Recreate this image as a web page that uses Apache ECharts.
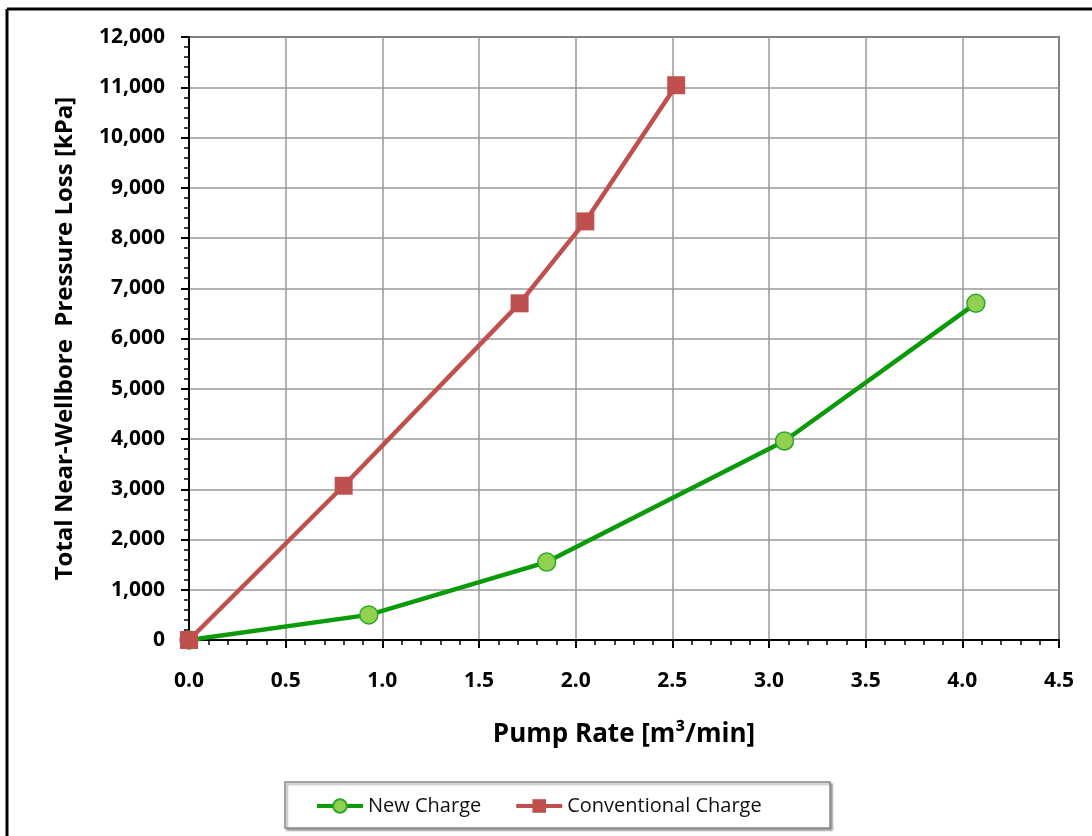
<!DOCTYPE html>
<html>
<head>
<meta charset="utf-8">
<script src="https://cdn.jsdelivr.net/npm/echarts@6/dist/echarts.min.js"></script>
<style>
  html, body { margin: 0; padding: 0; background: #fff; }
  #main { width: 1092px; height: 836px; }
</style>
</head>
<body>
<div id="main"></div>
<script>
// pump rate [m3/min] vs pressure loss [kPa]
var newRate = [0, 0.93, 1.85, 3.08, 4.07];
var newLoss = [0, 500, 1550, 3960, 6700];
var convRate = [0, 0.80, 1.71, 2.05, 2.52];
var convLoss = [0, 3070, 6700, 8330, 11040];
var seriesNames = ['New Charge', 'Conventional Charge'];

function pairs(xs, ys) {
  return xs.map(function (x, i) { return [x, ys[i]]; });
}

var myChart = echarts.init(document.getElementById('main'));
var font = '"Open Sans", Lato, sans-serif';

var option = {
  backgroundColor: '#fff',
  animation: false,
  textStyle: { fontFamily: font },
  grid: { left: 189, top: 37, right: 33, bottom: 196, show: true, borderColor: '#000', borderWidth: 1.5 },
  graphic: [
    // outer frame (top + left only visible)
    { type: 'line', shape: { x1: 7, y1: 9, x2: 1092, y2: 9 }, style: { stroke: '#000', lineWidth: 3 } },
    { type: 'line', shape: { x1: 7, y1: 9, x2: 7, y2: 836 }, style: { stroke: '#000', lineWidth: 3 } },
    // legend box
    { type: 'rect', shape: { x: 285, y: 782, width: 545, height: 46 },
      style: { fill: '#fff', stroke: '#888', lineWidth: 1.5, shadowColor: 'rgba(0,0,0,0.35)', shadowOffsetX: 2, shadowOffsetY: 2, shadowBlur: 2 }, z: 0 }
  ],
  legend: {
    data: seriesNames,
    left: 310,
    top: 791,
    itemWidth: 46,
    itemHeight: 17,
    itemGap: 33,
    z: 10,
    lineStyle: { width: 4 },
    textStyle: { fontSize: 20, color: '#111', fontFamily: font }
  },
  xAxis: {
    type: 'value',
    min: 0, max: 4.5, interval: 0.5,
    name: 'Pump Rate [m\u00B3/min]',
    nameLocation: 'middle',
    nameGap: 82,
    nameTextStyle: { fontSize: 26, fontWeight: 'bold', color: '#000' },
    axisLine: { show: true, lineStyle: { color: '#000', width: 2 } },
    axisTick: { show: true, inside: false, length: 8, lineStyle: { color: '#000', width: 2 } },
    minorTick: { show: true, splitNumber: 5, length: 5, lineStyle: { color: '#000', width: 1.5 } },
    axisLabel: { fontSize: 21, fontWeight: 'bold', color: '#000', margin: 31,
      formatter: function (v) { return v.toFixed(1); } },
    splitLine: { show: true, lineStyle: { color: '#999', width: 1.5 } }
  },
  yAxis: {
    type: 'value',
    min: 0, max: 12000, interval: 1000,
    name: 'Total Near-Wellbore  Pressure Loss [kPa]',
    nameLocation: 'middle',
    nameGap: 112,
    nameTextStyle: { fontSize: 24, fontWeight: 'bold', color: '#000' },
    axisLine: { show: true, lineStyle: { color: '#000', width: 2 } },
    axisTick: { show: true, inside: false, length: 8, lineStyle: { color: '#000', width: 2 } },
    minorTick: { show: true, splitNumber: 5, length: 5, lineStyle: { color: '#000', width: 1.5 } },
    axisLabel: { fontSize: 21, fontWeight: 'bold', color: '#000', margin: 24,
      formatter: function (v) { return v.toLocaleString('en-US'); } },
    splitLine: { show: true, lineStyle: { color: '#999', width: 1.5 } }
  },
  series: [
    {
      name: seriesNames[0],
      type: 'line',
      data: pairs(newRate, newLoss),
      symbol: 'circle',
      symbolSize: 18,
      lineStyle: { color: '#0a9a0a', width: 4.5 },
      itemStyle: { color: '#92d050', borderColor: '#2aa82a', borderWidth: 1.5 },
      z: 3
    },
    {
      name: seriesNames[1],
      type: 'line',
      data: pairs(convRate, convLoss),
      symbol: 'rect',
      symbolSize: 18,
      lineStyle: { color: '#c0504d', width: 4.5 },
      itemStyle: { color: '#c0504d', borderColor: '#c0504d', borderWidth: 0 },
      z: 4
    }
  ]
};

myChart.setOption(option);
</script>
</body>
</html>
